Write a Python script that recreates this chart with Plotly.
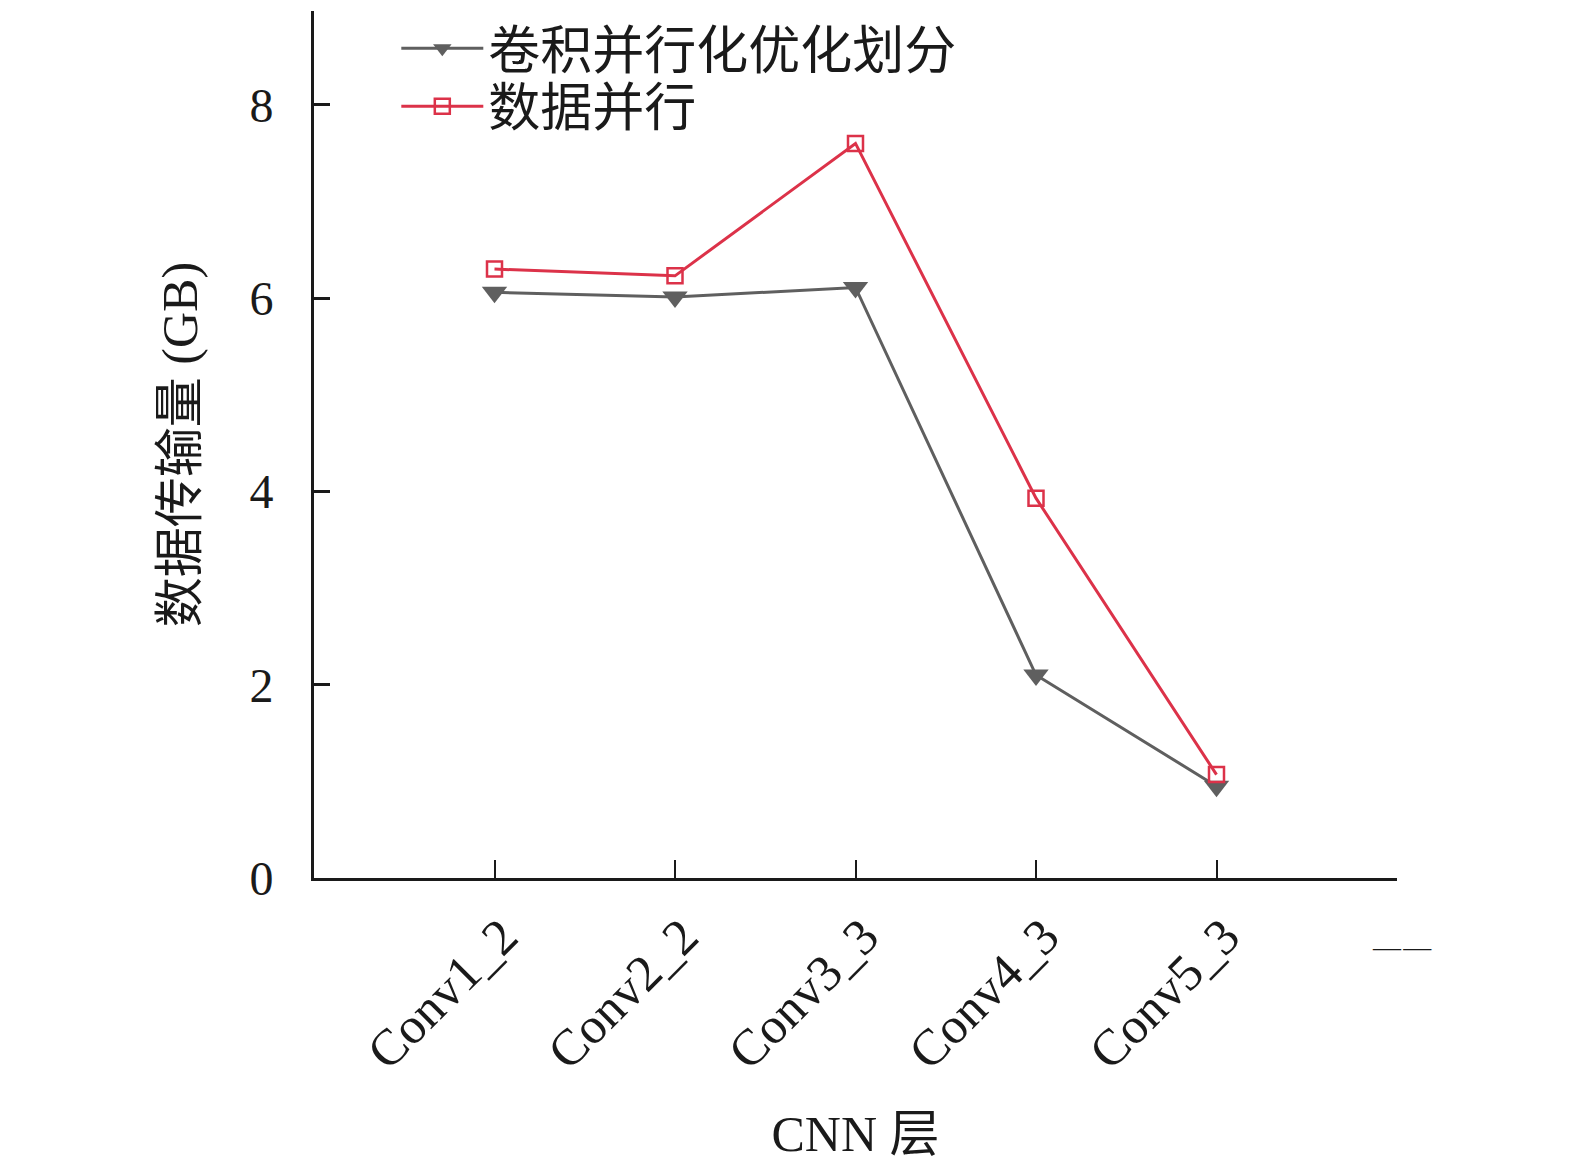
import plotly.graph_objects as go

layers = ["Conv1_2", "Conv2_2", "Conv3_3", "Conv4_3", "Conv5_3"]
layer_pos = [1, 2, 3, 4, 5]
conv_split = [6.06, 6.01, 6.11, 2.10, 0.95]
data_parallel = [6.30, 6.23, 7.60, 3.93, 1.07]

tick_pos = layer_pos + [6]
tick_text = layers + [""]

FONT = "Liberation Serif, Noto Sans CJK SC, serif"
GRAY = "#5f5f5f"
RED = "#DC3249"

fig = go.Figure()
fig.add_trace(go.Scatter(
    x=layer_pos, y=conv_split, name="卷积并行化优化划分",
    mode="lines+markers", legend="legend", showlegend=True,
    line=dict(color=GRAY, width=3),
    marker=dict(symbol="triangle-down", size=22, color=GRAY),
))
fig.add_trace(go.Scatter(
    x=layer_pos, y=data_parallel, name="数据并行",
    mode="lines+markers", legend="legend2", showlegend=True,
    line=dict(color=RED, width=3),
    marker=dict(symbol="square-open", size=15, color=RED, line=dict(width=2.5)),
))

legend_style = dict(xanchor="left", yanchor="middle", font=dict(size=52),
                    bgcolor="rgba(0,0,0,0)", itemwidth=82, visible=True)

fig.update_layout(
    width=1575, height=1169,
    margin=dict(l=306, r=186, t=0, b=299),
    plot_bgcolor="white", paper_bgcolor="white",
    showlegend=True,
    font=dict(family=FONT, size=46, color="#1a1a1a"),
    legend=dict(x=0.076, y=0.957, **legend_style),
    legend2=dict(x=0.076, y=0.890, **legend_style),
    annotations=[dict(x=6, y=-0.075, xref="x", yref="paper", text="—\u200a—",
                      showarrow=False, font=dict(size=28), xanchor="center",
                      yanchor="middle", xshift=5, yshift=-3)],
)
fig.update_xaxes(
    range=[0, 6], tickvals=tick_pos, ticktext=tick_text, tickangle=-45,
    showline=True, linecolor="#1a1a1a", linewidth=3, mirror=False,
    ticks="inside", ticklen=18, tickwidth=2, tickcolor="#1a1a1a",
    showgrid=False, zeroline=False, ticklabelstandoff=5, ticklabelshift=8,
    tickfont=dict(size=51), automargin=False,
    title=dict(text="CNN 层", font=dict(size=50), standoff=38),
)
fig.update_yaxes(
    range=[0, 8.97], tickvals=[0, 2, 4, 6, 8],
    showline=True, linecolor="#1a1a1a", linewidth=3,
    ticks="inside", ticklen=16, tickwidth=3, tickcolor="#1a1a1a",
    showgrid=False, zeroline=False, tickfont=dict(size=48), ticklabelstandoff=28,
    automargin=False,
    title=dict(text="数据传输量 (GB)", font=dict(size=50), standoff=36),
)

fig.write_html("out.html")
